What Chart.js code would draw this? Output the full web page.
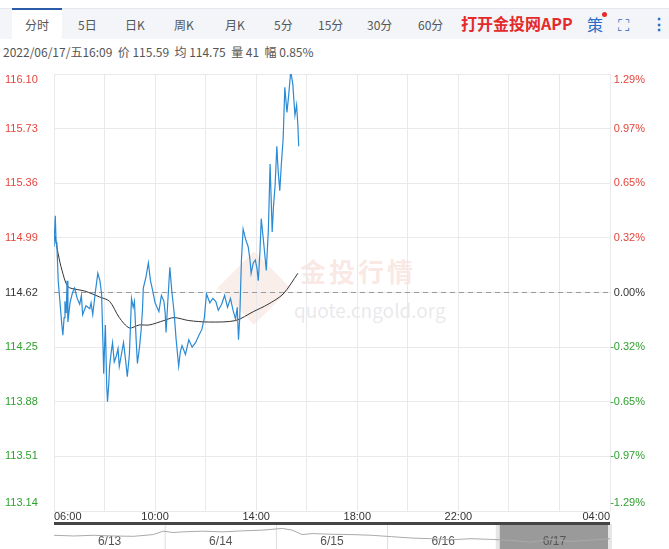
<!DOCTYPE html>
<html><head><meta charset="utf-8">
<script src="https://cdn.jsdelivr.net/npm/chart.js@4"></script>
<style>
body{margin:0;width:669px;height:549px;overflow:hidden;background:#fff;font-family:"Noto Sans CJK SC","Liberation Sans",sans-serif;position:relative}
#tabs{position:absolute;left:0;top:8px;width:669px;height:30px;background:#f3f5f9;border-top:1px solid #e4e8ef}
.t{position:absolute;top:7px;font-size:12px;color:#555}
#act{position:absolute;left:12px;top:-1px;width:50px;height:31px;background:#fff;border-top:2px solid #2a5caa;box-sizing:border-box}
#info{position:absolute;left:3px;top:43px;font-size:12px;color:#555}
#wm1{position:absolute;left:300px;top:252px;font-size:26px;color:rgba(230,150,130,0.22);letter-spacing:3px;font-weight:bold}
#wm2{position:absolute;left:294px;top:296px;font-size:19px;color:rgba(180,180,190,0.3)}
#dia{position:absolute;left:228px;top:262px;width:52px;height:52px;transform:rotate(45deg);background:rgba(230,160,140,0.18)}
</style></head><body>
<div id="tabs"><div id="act"></div>
<span class="t" style="left:25px">分时</span><span class="t" style="left:78px">5日</span><span class="t" style="left:125px">日K</span><span class="t" style="left:174px">周K</span><span class="t" style="left:225px">月K</span><span class="t" style="left:274px">5分</span><span class="t" style="left:318px">15分</span><span class="t" style="left:367px">30分</span><span class="t" style="left:418px">60分</span>
<span style="position:absolute;left:461px;top:2px;font-size:16px;font-weight:bold;color:#e52a2a">打开金投网APP</span>
<span style="position:absolute;left:587px;top:3px;font-size:16px;color:#2a6cc4">策</span><span style="position:absolute;left:602px;top:3px;width:5px;height:5px;border-radius:3px;background:#e52a2a"></span>
<span style="position:absolute;left:618px;top:3px;font-size:16px;color:#2a6cc4;letter-spacing:-1px">⛶</span>
<span style="position:absolute;left:651px;top:2px;font-size:16px;color:#2a6cc4;font-weight:bold">⋮</span>
</div>
<div id="info">2022/06/17/五16:09 &nbsp;价 115.59 &nbsp;均 114.75 &nbsp;量 41 &nbsp;幅 0.85%</div>
<div id="dia"></div><div id="wm1">金投行情</div><div id="wm2">quote.cngold.org</div>
<canvas id="c" width="669" height="462" style="position:absolute;left:0;top:62px;width:669px;height:462px"></canvas>
<canvas id="n" width="669" height="27" style="position:absolute;left:0;top:522px;width:669px;height:27px"></canvas>
<script>
const priceMin=[0,3,5,7,10,14,18,21,24,26,29,31,33,38,44,49,55,61,65,68,76,85,88,92,98,104,109,113,116,118,120,122,125,127,130,132,136,139,143,148,152,155,160,165,170,174,179,184,188,191,195,198,203,207,210,212,218,224,229,233,240,249,255,261,264,266,270,275,280,285,290,296,300,304,312,320,328,336,344,351,357,362,370,377,384,390,398,405,412,419,425,431,435,438,441,445,449,455,461,465,468,473,478,482,485,489,492,498,504,509,513,518,521,525,529,532,536,540,544,548,553,557,562,567,572,576,579,581];
const price=[114.93,115.14,114.96,114.93,114.70,114.56,114.42,114.33,114.45,114.56,114.48,114.70,114.42,114.55,114.62,114.65,114.58,114.54,114.60,114.47,114.53,114.51,114.55,114.47,114.62,114.75,114.70,114.61,114.30,114.07,114.25,114.40,114.00,113.88,114.00,114.12,114.22,114.28,114.15,114.19,114.24,114.12,114.20,114.28,114.16,114.05,114.20,114.58,114.52,114.56,114.30,114.14,114.25,114.37,114.50,114.65,114.72,114.82,114.70,114.65,114.55,114.49,114.60,114.56,114.48,114.35,114.55,114.79,114.62,114.49,114.30,114.12,114.22,114.26,114.20,114.30,114.25,114.28,114.33,114.37,114.45,114.61,114.55,114.58,114.56,114.50,114.54,114.60,114.52,114.58,114.50,114.44,114.52,114.30,114.45,114.84,115.05,114.98,114.93,114.85,114.75,114.82,114.84,114.78,114.70,114.90,115.12,114.95,114.77,115.05,115.49,115.03,115.20,115.35,115.61,115.45,115.31,115.50,115.66,116.01,115.84,115.95,116.12,116.03,115.82,115.89,115.75,115.61];
const avgMin=[2,10,19,33,55,73,108,132,155,179,202,226,261,285,320,367,431,473,508,544,579];
const avgPrice=[115.01,114.88,114.77,114.66,114.64,114.63,114.59,114.56,114.45,114.38,114.40,114.40,114.43,114.45,114.43,114.42,114.43,114.49,114.54,114.61,114.75];
const yTicks=[113.14,113.51,113.88,114.25,114.62,114.99,115.36,115.73,116.10];
const pctTicks=['-1.29%','-0.97%','-0.65%','-0.32%','0.00%','0.32%','0.65%','0.97%','1.29%'];
const xTickMin=[0,240,480,720,960,1320];
const xTickLabels=['06:00','10:00','14:00','18:00','22:00','04:00'];
const baseLine=114.62;
const navX=[0,20,40,60,80,100,110,120,130,150,170,190,210,230,240,250,260,280,300,320,340,360,380,400,420,440,460,480,500,520,540,560];
const navY=[40,38,40,38,37,42,52,48,50,52,50,53,55,60,55,42,45,43,42,40,36,32,30,27,30,28,25,20,28,22,26,30];
const navLabels=['6/13','6/14','6/15','6/16','6/17'];

const grid='#e9e9ec';
const pts=(xs,ys)=>xs.map((x,i)=>({x:x,y:ys[i]}));
const labels={id:'labels',afterDraw(ch){
  const c=ch.ctx,y=ch.scales.y,x=ch.scales.x,a=ch.chartArea;
  c.save();c.font='11px "Liberation Sans",Arial';c.textBaseline='middle';
  yTicks.forEach((v,i)=>{let py=y.getPixelForValue(v);py=Math.min(Math.max(py,a.top+6),a.bottom-8);
    const col=v>baseLine+0.001?'#e5443b':(v<baseLine-0.001?'#2fa12f':'#333');c.fillStyle=col;
    c.textAlign='left';c.fillText(v.toFixed(2),5,py);c.textAlign='right';c.fillText(pctTicks[i],645,py);});
  c.fillStyle='#333';
  xTickMin.forEach((m,i)=>{const px=x.getPixelForValue(m);c.textAlign=i==0?'left':(i==xTickMin.length-1?'right':'center');c.fillText(xTickLabels[i],px,a.bottom+6);});
  c.restore();}};
new Chart(document.getElementById('c'),{type:'line',
 data:{datasets:[
  {data:pts(priceMin,price),borderColor:'#2a8ad4',borderWidth:1.2,pointRadius:0,tension:0},
  {data:pts(avgMin,avgPrice),borderColor:'#333',borderWidth:1,pointRadius:0,tension:0.3},
  {data:[{x:0,y:baseLine},{x:1320,y:baseLine}],borderColor:'#999',borderWidth:1,borderDash:[5,4],pointRadius:0}]},
 options:{responsive:false,animation:false,devicePixelRatio:1,layout:{padding:{top:12}},
  plugins:{legend:{display:false},tooltip:{enabled:false}},
  scales:{
   x:{type:'linear',min:0,max:1320,ticks:{display:false},afterBuildTicks:s=>{s.ticks=[];for(let m=0;m<=1320;m+=120)s.ticks.push({value:m});},afterFit:s=>{s.height=13;},grid:{color:grid,drawTicks:false},border:{display:false}},
   y:{min:113.14,max:116.10,ticks:{display:false},afterBuildTicks:s=>{s.ticks=yTicks.map(v=>({value:v}));},afterFit:s=>{s.width=54;},grid:{color:grid,drawTicks:false},border:{display:false}},
   y2:{position:'right',min:113.14,max:116.10,ticks:{display:false},grid:{display:false},afterFit:s=>{s.width=59;},border:{display:false}}}},
 plugins:[labels]});
const nav={id:'nav',beforeDatasetsDraw(ch){const c=ch.ctx,a=ch.chartArea,x=ch.scales.x;c.save();
  c.fillStyle='#9a9a9a';const x1=x.getPixelForValue(448),x2=a.right;c.fillRect(x1,a.top,x2-x1,30);
  c.fillStyle='#e6e6e6';c.fillRect(x1-3,a.top-1,4,30);c.fillRect(x2-2,a.top-1,4,30);
  c.strokeStyle='#ddd';[112,224,336].forEach(m=>{const p=x.getPixelForValue(m);c.beginPath();c.moveTo(p,a.top);c.lineTo(p,30);c.stroke();});
  c.fillStyle='#444';c.fillRect(a.left,0,a.right-a.left,3);
  c.font='12px "Liberation Sans",Arial';c.textAlign='center';c.fillStyle='#555';
  navLabels.forEach((l,i)=>c.fillText(l,x.getPixelForValue(56+i*112),a.top+20));c.restore();}};
new Chart(document.getElementById('n'),{type:'line',
 data:{datasets:[{data:pts(navX,navY),borderColor:'#aaa',borderWidth:1,pointRadius:0}]},
 options:{responsive:false,animation:false,devicePixelRatio:1,layout:{padding:{left:54,right:59,top:3,bottom:0}},
  plugins:{legend:{display:false},tooltip:{enabled:false}},
  scales:{x:{type:'linear',min:0,max:560,display:false},y:{min:0,max:70,display:false}}},
 plugins:[nav]});
</script>
</body></html>
